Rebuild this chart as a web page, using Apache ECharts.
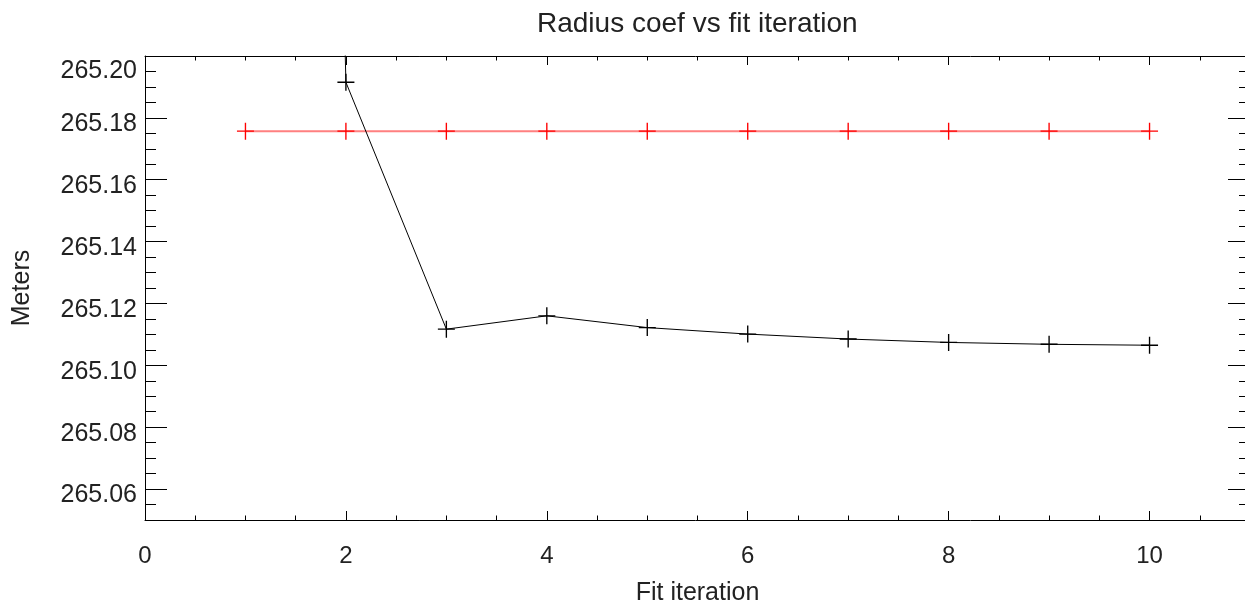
<!DOCTYPE html>
<html>
<head>
<meta charset="utf-8">
<script src="https://cdn.jsdelivr.net/npm/echarts@6/dist/echarts.min.js"></script>
<style>
html,body{margin:0;padding:0;background:#fff;}
#chart{width:1245px;height:607px;}
</style>
</head>
<body>
<div id="chart"></div>
<script>
// Data
const iterations = [1, 2, 3, 4, 5, 6, 7, 8, 9, 10];
const fitRadius = [266.5, 265.1915, 265.1117, 265.1160, 265.1122, 265.1101, 265.1085, 265.1074, 265.1068, 265.1065];
const refRadius = [265.1757, 265.1757, 265.1757, 265.1757, 265.1757, 265.1757, 265.1757, 265.1757, 265.1757, 265.1757];
const titleText = 'Radius coef vs fit iteration';
const xName = 'Fit iteration';
const yName = 'Meters';

const FONT = 'Liberation Sans, Helvetica, Arial, sans-serif';
const TXT = '#222222';
const PLUS = 'path://M-0.8,-10H0.8V-0.8H10V0.8H0.8V10H-0.8V0.8H-10V-0.8H-0.8Z';

const chart = echarts.init(document.getElementById('chart'), null, {renderer: 'canvas'});

function xAx(grid, pos, interval, tickLen, labels, line) {
  return {
    type: 'value', gridIndex: grid, position: pos, min: 0, max: 11, interval: interval,
    axisLine: {show: line, onZero: false, lineStyle: {color: '#000', width: 1}},
    axisTick: {show: true, inside: true, length: tickLen, lineStyle: {color: '#000', width: 1}},
    axisLabel: {show: labels, margin: 24, color: TXT, fontFamily: FONT, fontSize: 24,
      formatter: v => (Math.abs(v % 2) < 1e-9 && v <= 10) ? String(v) : ''},
    splitLine: {show: false},
    minorTick: {show: false}
  };
}
function yMajor(grid, pos, labels) {
  return {
    type: 'value', gridIndex: grid, position: pos, min: 265.05, max: 265.20,
    splitNumber: 7, minInterval: 0.02, maxInterval: 0.02,
    axisLine: {show: true, onZero: false, lineStyle: {color: '#000', width: 1}},
    axisTick: {show: true, inside: true, length: 22, lineStyle: {color: '#000', width: 1}},
    axisLabel: {show: labels, margin: 8, color: TXT, fontFamily: FONT, fontSize: 25,
      showMaxLabel: true, showMinLabel: true,
      rich: {
        v: {color: TXT, fontFamily: FONT, fontSize: 25, padding: [13, 0, 0, 0]},
        t: {color: TXT, fontFamily: FONT, fontSize: 25, padding: [31, 0, 0, 0]}
      },
      formatter: v => {
        const r = Math.round(v * 100);
        if (!(Math.abs(r - v * 100) < 1e-6 && r % 2 === 0)) return '';
        return (r === 26520 ? '{t|' : '{v|') + v.toFixed(2) + '}';
      }},
    splitLine: {show: false},
    minorTick: {show: false}
  };
}
function yMinor(grid, pos) {
  return {
    type: 'value', gridIndex: grid, position: pos, min: 265.05, max: 265.20, interval: 0.005,
    axisLine: {show: false, onZero: false},
    axisTick: {show: true, inside: true, length: 11, lineStyle: {color: '#000', width: 1}},
    axisLabel: {show: false},
    splitLine: {show: false},
    minorTick: {show: false}
  };
}

const yMain = yMajor(0, 'left', true);
yMain.name = yName;
yMain.nameLocation = 'middle';
yMain.nameGap = 110;
yMain.nameTextStyle = {color: TXT, fontFamily: FONT, fontSize: 25};

const xMain = xAx(0, 'bottom', 2, 9, true, true);
xMain.name = xName;
xMain.nameLocation = 'middle';
xMain.nameGap = 61;
xMain.nameTextStyle = {color: TXT, fontFamily: FONT, fontSize: 25};

const gridBox = {left: 145, top: 56, right: -5, bottom: 87, containLabel: false, outerBoundsMode: 'none'};

const option = {
  backgroundColor: '#ffffff',
  animation: false,
  title: {
    text: titleText, left: 537, top: 10, padding: 0,
    textStyle: {color: TXT, fontFamily: FONT, fontSize: 28, fontWeight: 'normal'}
  },
  grid: [Object.assign({}, gridBox), Object.assign({}, gridBox)],
  xAxis: [
    xMain,
    xAx(0, 'top', 2, 9, false, true),
    xAx(1, 'bottom', 0.5, 4.5, false, false),
    xAx(1, 'top', 0.5, 4.5, false, false)
  ],
  yAxis: [
    yMain,
    yMajor(0, 'right', false),
    yMinor(1, 'left'),
    yMinor(1, 'right')
  ],
  series: [
    {
      type: 'line', xAxisIndex: 0, yAxisIndex: 0,
      data: iterations.map((x, i) => [x, refRadius[i]]),
      symbol: PLUS, symbolSize: 17, showAllSymbol: true,
      lineStyle: {color: '#ff8080', width: 2},
      itemStyle: {color: '#ff0000'},
      clip: true, z: 2
    },
    {
      type: 'line', xAxisIndex: 0, yAxisIndex: 0,
      data: iterations.map((x, i) => [x, fitRadius[i]]),
      symbol: PLUS, symbolSize: 17, showAllSymbol: true,
      lineStyle: {color: '#000000', width: 1},
      itemStyle: {color: '#000000'},
      clip: true, z: 3
    }
  ]
};
chart.setOption(option);
</script>
</body>
</html>
